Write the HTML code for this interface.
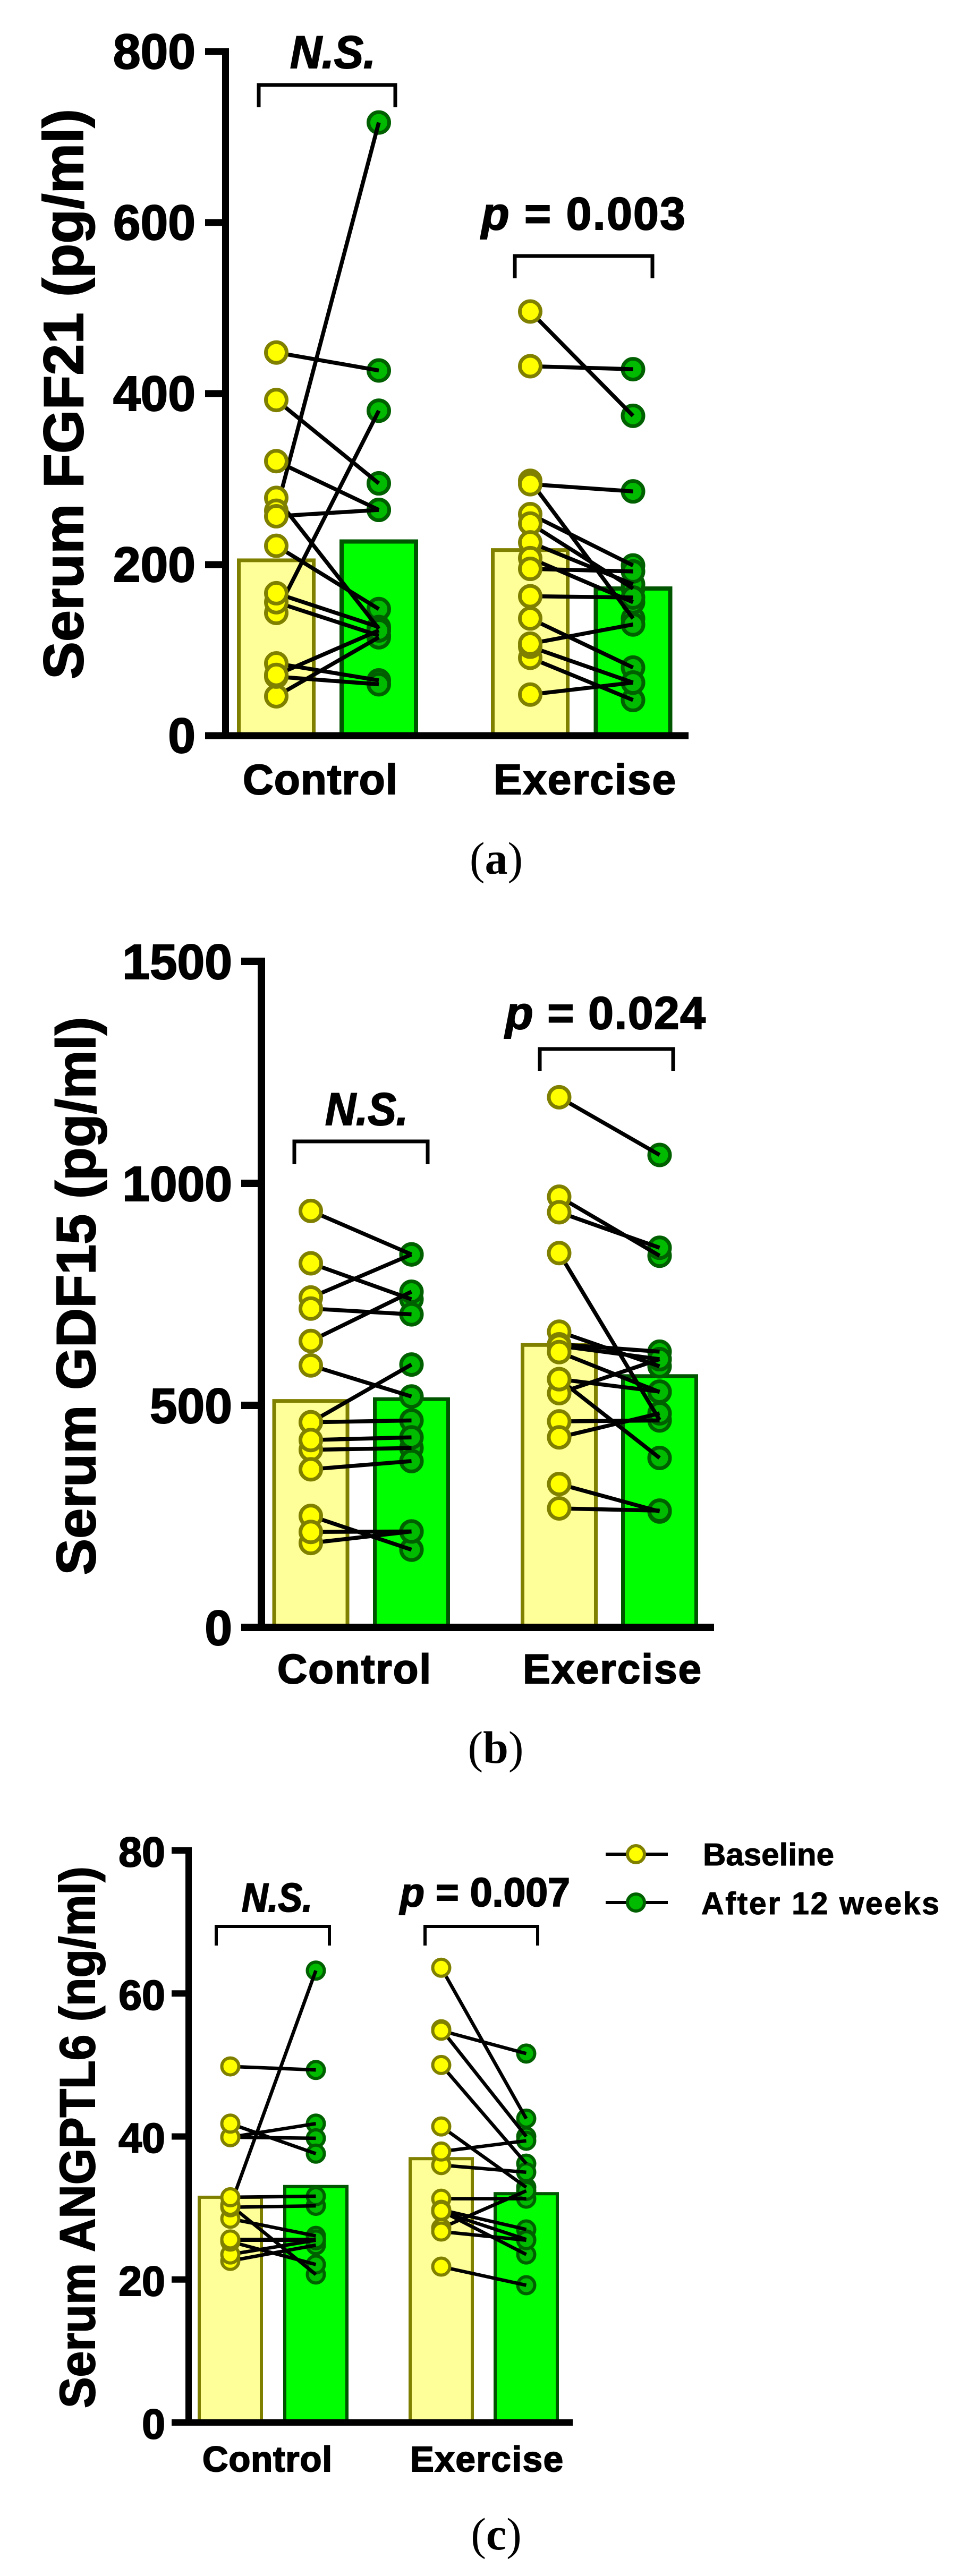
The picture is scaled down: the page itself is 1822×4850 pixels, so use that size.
<!DOCTYPE html>
<html lang="en">
<head>
<meta charset="utf-8">
<title>Serum FGF21, GDF15 and ANGPTL6</title>
<style>
html,body{margin:0;padding:0;background:#fff;}
svg{display:block;}
text{font-family:"Liberation Sans",sans-serif;font-weight:bold;fill:#000;stroke:#000;stroke-width:2px;}
.cap{font-family:"Liberation Serif",serif;font-weight:normal;font-size:86px;text-anchor:middle;stroke:none;}
.cap tspan{font-weight:bold;}
.bracket{fill:none;stroke:#000;stroke-width:7;}
</style>
</head>
<body>
<svg id="figure" xmlns="http://www.w3.org/2000/svg" width="1822" height="4850" viewBox="0 0 1822 4850">
  <rect x="0" y="0" width="1822" height="4850" fill="#fff"/>
  <g id="chart-a"></g>
  <g id="chart-b"></g>
  <g id="chart-c"></g>

  <text transform="translate(156 742) rotate(-90)" text-anchor="middle" font-size="106" textLength="1074" lengthAdjust="spacingAndGlyphs">Serum FGF21 (pg/ml)</text>
  <text x="457" y="1495" font-size="80" textLength="291" lengthAdjust="spacing">Control</text>
  <text x="929" y="1495" font-size="80" textLength="343" lengthAdjust="spacing">Exercise</text>
  <path class="bracket" d="M487 202V160H744V202"/>
  <path class="bracket" d="M969 524V482H1228V524"/>
  <text x="546" y="128" font-size="86" font-style="italic" textLength="161" lengthAdjust="spacingAndGlyphs">N.S.</text>
  <text x="906" y="432" font-size="86" textLength="384" lengthAdjust="spacing"><tspan font-style="italic">p</tspan> = 0.003</text>
  <text class="cap" x="934" y="1645">(<tspan>a</tspan>)</text>

  <text transform="translate(179 2440) rotate(-90)" text-anchor="middle" font-size="104" textLength="1051" lengthAdjust="spacingAndGlyphs">Serum GDF15 (pg/ml)</text>
  <text x="522" y="3169" font-size="78" textLength="289" lengthAdjust="spacing">Control</text>
  <text x="984" y="3169" font-size="78" textLength="336" lengthAdjust="spacing">Exercise</text>
  <path class="bracket" d="M554 2192V2149H805V2192"/>
  <path class="bracket" d="M1016 2016V1975H1267V2016"/>
  <text x="612" y="2118" font-size="86" font-style="italic" textLength="156" lengthAdjust="spacingAndGlyphs">N.S.</text>
  <text x="951" y="1937" font-size="86" textLength="377" lengthAdjust="spacing"><tspan font-style="italic">p</tspan> = 0.024</text>
  <text class="cap" x="933" y="3319">(<tspan>b</tspan>)</text>

  <text transform="translate(178 4024) rotate(-90)" text-anchor="middle" font-size="94" textLength="1020" lengthAdjust="spacingAndGlyphs">Serum ANGPTL6 (ng/ml)</text>
  <text x="381" y="4653" font-size="67" textLength="244" lengthAdjust="spacing">Control</text>
  <text x="772" y="4653" font-size="67" textLength="288" lengthAdjust="spacing">Exercise</text>
  <path class="bracket" style="stroke-width:6" d="M407 3663V3627H620V3663"/>
  <path class="bracket" style="stroke-width:6" d="M800 3663V3627H1012V3663"/>
  <text x="455" y="3599" font-size="76" font-style="italic" textLength="133" lengthAdjust="spacingAndGlyphs">N.S.</text>
  <text x="753" y="3589" font-size="76" textLength="320" lengthAdjust="spacingAndGlyphs"><tspan font-style="italic">p</tspan> = 0.007</text>
  <text class="cap" x="934" y="4800">(<tspan>c</tspan>)</text>

  <g>
    <g>
      <rect x="1140" y="3488" width="117" height="6" fill="#000"/>
      <circle cx="1197" cy="3491" r="16" fill="#FFFF00" stroke="#808000" stroke-width="6"/>
      <text style="stroke-width:1px" x="1323" y="3512" font-size="59" textLength="247" lengthAdjust="spacingAndGlyphs">Baseline</text>
    </g>
    <g>
      <rect x="1140" y="3579" width="117" height="6" fill="#000"/>
      <circle cx="1197" cy="3582" r="16" fill="#00BB00" stroke="#006000" stroke-width="6"/>
      <text style="stroke-width:1px" x="1320" y="3604" font-size="59" textLength="448" lengthAdjust="spacing">After 12 weeks</text>
    </g>
  </g>
</svg>
<script>
// Panel (a) FGF21, pg/ml
const fgf21Ticks = [0, 200, 400, 600, 800];
const fgf21Means = [205, 227, 217, 172];
const fgf21ControlBaseline = [448, 392.5, 321, 278, 263, 256.5, 222, 143.5, 156, 166.5, 84.5, 46, 69, 71];
const fgf21ControlAfter = [427, 295, 264, 125, 717, 264, 148, 380, 117, 127, 64.6, 115, 60, 123];
const fgf21ExerciseBaseline = [496, 432, 298, 294, 259, 248, 226, 207.5, 195, 163, 137, 91, 104, 107.5, 48];
const fgf21ExerciseAfter = [374, 428.5, 137, 285.6, 199, 172, 177, 156, 192, 161.5, 79.6, 41.6, 62, 130, 62];

// Panel (b) GDF15, pg/ml
const gdf15Ticks = [0, 500, 1000, 1500];
const gdf15Means = [510, 514, 636, 566];
const gdf15ControlBaseline = [938, 820, 743, 718, 645, 590, 462, 462, 400, 422, 356, 190, 251, 215];
const gdf15ControlAfter = [840, 739, 840, 705, 756, 520, 592, 466, 404, 428, 374.5, 216, 175, 216];
const gdf15ExerciseBaseline = [1194, 970, 935, 843, 666, 637.5, 634, 620, 527.5, 559, 559, 464, 428, 323, 268];
const gdf15ExerciseAfter = [1064, 837, 855, 467, 588, 621, 604, 530, 604, 531, 381.6, 466, 482, 261, 263];

// Panel (c) ANGPTL6, ng/ml
const angptl6Ticks = [0, 20, 40, 60, 80];
const angptl6Means = [31.5, 33, 36.9, 32];
const angptl6ControlBaseline = [49.8, 39.9, 39.9, 41.8, 28.5, 30.4, 30.1, 30.3, 31.5, 22.6, 23.5, 25.3, 25.5, 25.6];
const angptl6ControlAfter = [49.3, 41.8, 39.75, 37.6, 26.1, 20.7, 30.3, 63.2, 31.65, 24.8, 25.5, 22.1, 25.5, 25.6];
const angptl6ExerciseBaseline = [63.6, 55, 54.8, 50, 41.4, 36, 37.9, 31.3, 29.75, 29.5, 29.6, 27.2, 26.7, 21.8];
const angptl6ExerciseAfter = [42.5, 40, 51.6, 36.2, 32.9, 35, 39.4, 31.3, 27, 25.6, 23.5, 32.4, 25.5, 19.2];

const NS = 'http://www.w3.org/2000/svg';

function make(parent, tag, attrs) {
  const el = document.createElementNS(NS, tag);
  Object.keys(attrs).forEach(function (k) { el.setAttribute(k, attrs[k]); });
  parent.appendChild(el);
  return el;
}

function drawChart(rootId, prefix, ticks, means, groups, geo) {
  const root = document.getElementById(rootId);
  const maxTick = ticks[ticks.length - 1];
  const yScale = function (v) { return geo.base - v * (geo.base - geo.top) / maxTick; };

  // bars
  means.forEach(function (m, i) {
    const isAfter = i % 2 === 1;
    const sw = isAfter ? geo.barStrokeAfter : geo.barStrokeBase;
    const cx = geo.columns[i];
    const yTop = yScale(m);
    const bar = make(root, 'rect', {
      x: cx - geo.barWidth / 2 + sw / 2,
      y: yTop,
      width: geo.barWidth - sw,
      height: geo.base - yTop,
      fill: isAfter ? '#00FF00' : '#FFFF99',
      stroke: isAfter ? '#005500' : '#808000',
      'stroke-width': sw
    });
    
    
  });

  // axes
  const yAxis = make(root, 'rect', {
    x: geo.axisX - geo.axisW / 2, y: geo.top - geo.axisW / 2,
    width: geo.axisW, height: geo.base - geo.top + geo.axisW, fill: '#000'
  });
  
  
  const xAxis = make(root, 'rect', {
    x: geo.tickLeft, y: geo.base - geo.axisW / 2,
    width: geo.axisRight - geo.tickLeft, height: geo.axisW, fill: '#000'
  });
  
  

  ticks.forEach(function (t) {
    const tick = make(root, 'rect', {
      x: geo.tickLeft, y: yScale(t) - geo.axisW / 2,
      width: geo.axisX - geo.tickLeft, height: geo.axisW, fill: '#000'
    });
    
    
    const label = make(root, 'text', {
      x: geo.labelRight, y: yScale(t) + geo.labelDy,
      'text-anchor': 'end', 'font-size': geo.labelSize
    });
    label.textContent = String(t);
    
    
  });

  groups.forEach(function (g, gi) {
    const xBase = geo.columns[gi * 2];
    const xAfter = geo.columns[gi * 2 + 1];

    // after-12-weeks points lie under the connecting lines
    g.after.forEach(function (v, i) {
      const pt = make(root, 'circle', {
        cx: xAfter, cy: yScale(v), r: geo.pointR,
        fill: '#00BB00', stroke: '#006000', 'stroke-width': geo.pointStroke
      });
      
      
    });

    g.base.forEach(function (v, i) {
      const ln = make(root, 'line', {
        x1: xBase, y1: yScale(v), x2: xAfter, y2: yScale(g.after[i]),
        stroke: '#000', 'stroke-width': geo.lineW
      });
      
      
    });

    // baseline points cover the line ends
    g.base.forEach(function (v, i) {
      const pt = make(root, 'circle', {
        cx: xBase, cy: yScale(v), r: geo.pointR,
        fill: '#FFFF00', stroke: '#808000', 'stroke-width': geo.pointStroke
      });
      
      
    });
  });
}

drawChart('chart-a', 'fgf21', fgf21Ticks, fgf21Means, [
  { name: 'control', base: fgf21ControlBaseline, after: fgf21ControlAfter },
  { name: 'exercise', base: fgf21ExerciseBaseline, after: fgf21ExerciseAfter }
], {
  base: 1385, top: 97, axisX: 424.5, axisW: 13, tickLeft: 386, axisRight: 1296,
  labelRight: 368, labelDy: 32, labelSize: 93, columns: [520, 713, 998, 1191.5],
  barWidth: 148, barStrokeBase: 7, barStrokeAfter: 8, pointR: 19.5, pointStroke: 7, lineW: 7.5
});

drawChart('chart-b', 'gdf15', gdf15Ticks, gdf15Means, [
  { name: 'control', base: gdf15ControlBaseline, after: gdf15ControlAfter },
  { name: 'exercise', base: gdf15ExerciseBaseline, after: gdf15ExerciseAfter }
], {
  base: 3064, top: 1810, axisX: 492, axisW: 14, tickLeft: 454, axisRight: 1344,
  labelRight: 437, labelDy: 33, labelSize: 93, columns: [585, 774.5, 1052.5, 1241.5],
  barWidth: 145, barStrokeBase: 7, barStrokeAfter: 7, pointR: 19.5, pointStroke: 7, lineW: 7.5
});

drawChart('chart-c', 'angptl6', angptl6Ticks, angptl6Means, [
  { name: 'control', base: angptl6ControlBaseline, after: angptl6ControlAfter },
  { name: 'exercise', base: angptl6ExerciseBaseline, after: angptl6ExerciseAfter }
], {
  base: 4561, top: 3484, axisX: 355, axisW: 12, tickLeft: 323, axisRight: 1078,
  labelRight: 311, labelDy: 30, labelSize: 79, columns: [433.5, 594.5, 830.5, 990.5],
  barWidth: 123, barStrokeBase: 6, barStrokeAfter: 6, pointR: 16, pointStroke: 6, lineW: 6.5
});
</script>
</body>
</html>
